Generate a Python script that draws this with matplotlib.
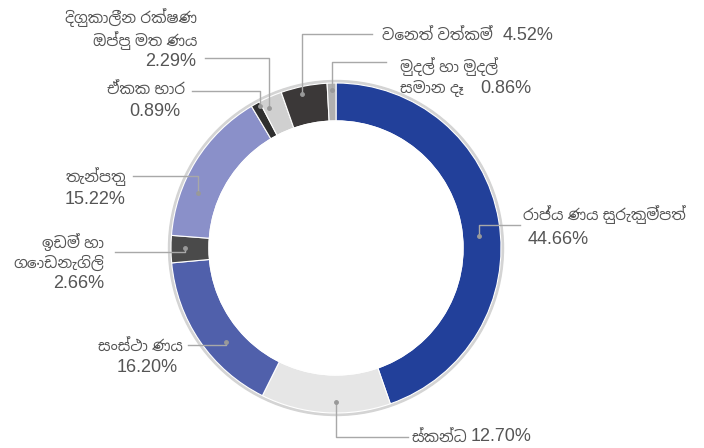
import matplotlib
matplotlib.use("Agg")
import matplotlib.pyplot as plt

labels = ["රාජ්ය ණය සුරැකුම්පත්", "ස්කන්ධ", "සංස්ථා ණය", "ඉඩම් හා\nගොඩනැගිලි",
          "තැන්පතු", "ඒකක භාර", "දිගුකාලීන රක්ෂණ\nඔප්පු මත ණය", "වෙනත් වත්කම්",
          "මුදල් හා මුදල්\nසමාන දෑ"]
values = [44.66, 12.70, 16.20, 2.66, 15.22, 0.89, 2.29, 4.52, 0.86]
colors = ["#22409a", "#e6e6e6", "#5060ab", "#4a4a4a", "#8a90c9",
          "#2f2f2f", "#d0d0d0", "#3b3838", "#b0b0b0"]

# Liberation for digits, Noto Sinhala for the Sinhala glyphs
plt.rcParams["font.family"] = ["Liberation Sans", "Noto Sans Sinhala", "Hind Colombo", "DejaVu Sans"]

fig = plt.figure(figsize=(7.04, 4.48), dpi=100)
ax = fig.add_axes([0, 0, 1, 1])

cx, cy, r = 336, 248, 165
ax.add_patch(plt.Circle((cx, cy), r + 2.5, color="#d4d4d4", zorder=0))
wedges, _ = ax.pie(values, colors=colors, startangle=-90, counterclock=True,
                   center=(cx, cy), radius=r,
                   wedgeprops=dict(width=38, edgecolor="white", linewidth=0.8))
ax.add_patch(plt.Circle((cx, cy), r - 38, color="white", zorder=3))
ax.set_xlim(0, 704)
ax.set_ylim(448, 0)
ax.set_aspect("equal")
ax.axis("off")

tc = "#555555"
lc = "#a8a8a8"
#leader lines: dot -> elbow -> end (pixel coords, y down)
pts = [
    [(479, 236), (479, 225), (520, 225)],
    [(336, 402), (336, 437), (408, 437)],
    [(226, 342), (226, 345), (188, 345)],
    [(185, 248), (185, 252), (115, 252)],
    [(198, 193), (198, 176), (133, 176)],
    [(260, 106), (260, 91), (192, 91)],
    [(269, 108), (269, 58), (205, 58)],
    [(302, 94), (302, 34), (372, 34)],
    [(332, 90), (332, 62), (386, 62)],
]
for p in pts:
    xs, ys = zip(*p)
    ax.plot(xs, ys, color=lc, lw=1, zorder=4)
    ax.plot(xs[0], ys[0], "o", color="#999999", ms=2.5, zorder=5)

fs = 13   # numbers
fl = 11   # sinhala names
def lab(x, y, s, ha):
    ax.text(x, y, s, fontsize=fl, color=tc, va="center", ha=ha, linespacing=1.3)
def num(x, y, v, ha):
    ax.text(x, y, f"{v:.2f}%", fontsize=fs, color=tc, va="center", ha=ha)

lab(523, 215, labels[0], "left")
num(528, 240, values[0], "left")
lab(412, 437, labels[1], "left")
num(471, 437, values[1], "left")
lab(183, 346, labels[2], "right")
num(178, 367, values[2], "right")
lab(104, 252, labels[3], "right")
num(104, 284, values[3], "right")
lab(126, 177, labels[4], "right")
num(125, 199, values[4], "right")
lab(185, 90, labels[5], "right")
num(180, 111, values[5], "right")
lab(197, 29, labels[6], "right")
num(196, 61, values[6], "right")
lab(382, 35, labels[7], "left")
num(503, 35, values[7], "left")
top, bottom = labels[8].split("\n")
lab(400, 67, top, "left")
lab(400, 88, bottom, "left")
num(480, 88, values[8], "left")

plt.savefig("out.png", dpi=100)
